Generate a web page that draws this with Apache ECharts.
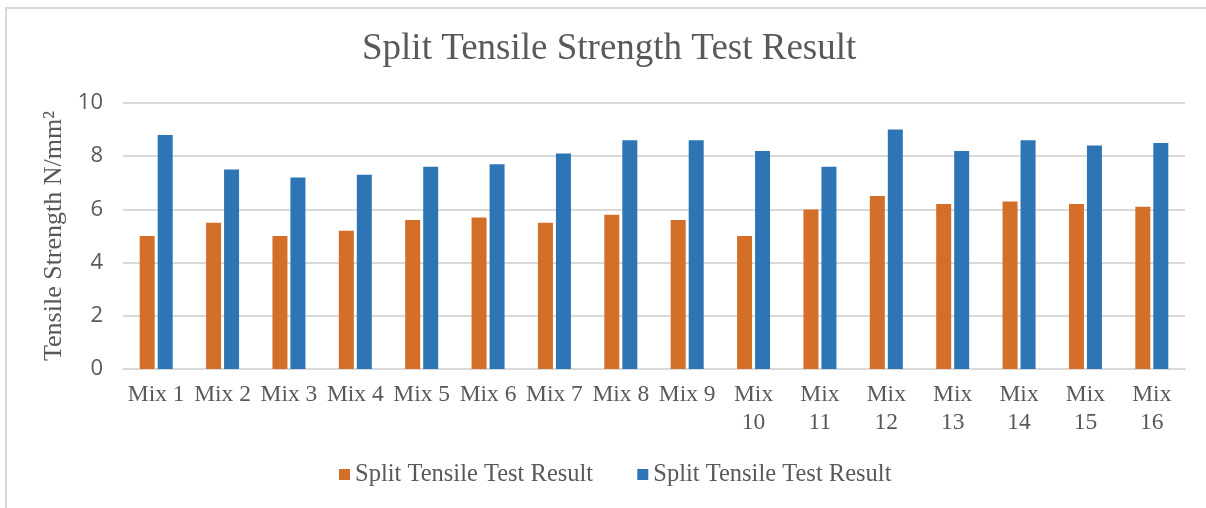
<!DOCTYPE html>
<html>
<head>
<meta charset="utf-8">
<script src="https://cdn.jsdelivr.net/npm/echarts@6/dist/echarts.min.js"></script>
<style>
    html, body { margin: 0; padding: 0; background: #fff; }
    #frame { position: absolute; left: 5px; top: 7px; width: 1201px; height: 501px;
             border-left: 2px solid #d9d9d9; border-top: 2px solid #d9d9d9; }
    #main { position: absolute; left: 0; top: 0; width: 1206px; height: 508px; }
</style>
</head>
<body>
<div id="frame"></div>
<div id="main"></div>
<script>
    // categories and values
    var mixes = ['Mix 1','Mix 2','Mix 3','Mix 4','Mix 5','Mix 6','Mix 7','Mix 8',
                 'Mix 9','Mix 10','Mix 11','Mix 12','Mix 13','Mix 14','Mix 15','Mix 16'];
    var orangeVals = [5.0, 5.5, 5.0, 5.2, 5.6, 5.7, 5.5, 5.8, 5.6, 5.0, 6.0, 6.5, 6.2, 6.3, 6.2, 6.1];
    var blueVals   = [8.8, 7.5, 7.2, 7.3, 7.6, 7.7, 8.1, 8.6, 8.6, 8.2, 7.6, 9.0, 8.2, 8.6, 8.4, 8.5];
    var seriesName = 'Split Tensile Test Result';

    var serif = '"Liberation Serif", "Times New Roman", serif';
    var myChart = echarts.init(document.getElementById('main'));
    var option = {
        animation: false,
        title: {
            text: 'Split Tensile Strength Test Result',
            left: 357,
            top: 26,
            textStyle: { fontFamily: serif, fontSize: 37, fontWeight: 'normal', color: '#595959' }
        },
        legend: {
            bottom: 16,
            left: 334,
            itemWidth: 11,
            itemHeight: 11,
            itemGap: 38,
            textStyle: { fontFamily: serif, fontSize: 24.5, color: '#595959' },
            data: [
                { name: seriesName + ' ', icon: 'rect' },
                { name: seriesName, icon: 'rect' }
            ]
        },
        grid: { left: 123, right: 21, top: 103, bottom: 139 },
        xAxis: {
            type: 'category',
            data: mixes,
            axisTick: { show: false },
            axisLine: { lineStyle: { color: '#d9d9d9', width: 2 } },
            axisLabel: {
                fontFamily: serif, fontSize: 23.5, color: '#595959', margin: 12, lineHeight: 28,
                interval: 0,
                formatter: function (v) { return v.length > 5 ? v.replace(' ', '\n') : v; }
            }
        },
        yAxis: {
            type: 'value',
            min: 0, max: 10, interval: 2,
            name: 'Tensile Strength N/mm\u00B2',
            nameLocation: 'middle',
            nameGap: 55,
            nameTextStyle: { fontFamily: serif, fontSize: 26, color: '#595959' },
            axisLabel: { fontFamily: '"Open Sans", sans-serif', fontSize: 22, color: '#595959', margin: 20 },
            splitLine: { lineStyle: { color: '#d9d9d9', width: 2 } }
        },
        series: [
            {
                name: seriesName + ' ',
                type: 'bar',
                data: orangeVals,
                barWidth: 15,
                barGap: '20%',
                itemStyle: { color: '#d46f2a' }
            },
            {
                name: seriesName,
                type: 'bar',
                data: blueVals,
                barWidth: 15,
                itemStyle: { color: '#2e75b6' }
            }
        ]
    };
    myChart.setOption(option);
</script>
</body>
</html>
